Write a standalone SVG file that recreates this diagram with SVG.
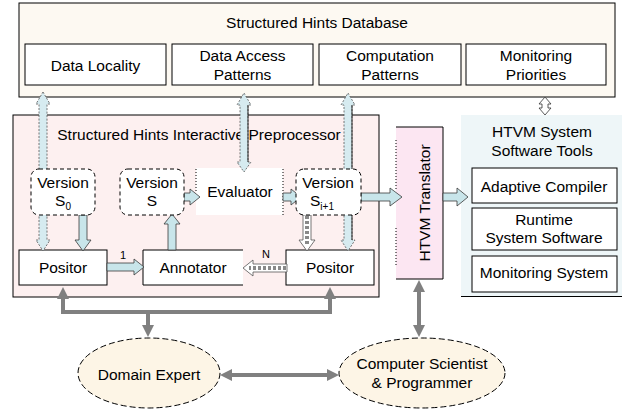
<svg xmlns="http://www.w3.org/2000/svg" width="624" height="412" viewBox="0 0 624 412">
<defs>
<style>
.t{font-family:"Liberation Sans",Arial,sans-serif;font-size:15.5px;fill:#000;text-anchor:middle}
.s{font-size:10px}
.lab{font-family:"Liberation Sans",Arial,sans-serif;font-size:11px;fill:#000;text-anchor:middle}
.box{fill:#fff;stroke:#000;stroke-width:1}
.ver{fill:#fff;stroke:#000;stroke-width:1;stroke-dasharray:4 3}
.blk{fill:#c8e5ea;stroke:#3a3a3a;stroke-width:0.8}
.dblk{fill:#d6ebf0;stroke:#555;stroke-width:0.8;stroke-dasharray:2 1.5}
.hol{fill:#fff;stroke:#333;stroke-width:0.8}
.hatch{fill:#fff;stroke:#555;stroke-width:0.8}
.hl{stroke:#888;stroke-width:4;stroke-dasharray:3 2;fill:none}
.gl{stroke:#808080;stroke-width:4;fill:none;marker-start:url(#gh);marker-end:url(#gh)}
.gl1{stroke:#808080;stroke-width:4;fill:none;marker-end:url(#gh)}
.ell{fill:#fdf5e6;stroke:#000;stroke-width:1;stroke-dasharray:6 3}
</style>
<marker id="gh" markerUnits="userSpaceOnUse" markerWidth="12" markerHeight="12" viewBox="0 0 12 12" refX="2" refY="6" orient="auto-start-reverse">
<path d="M0,0 L12,6 L0,12 Z" fill="#808080"/>
</marker>
</defs>

<!-- Database -->
<g id="database">
<rect x="19" y="3" width="596" height="94" fill="#fdf9f2" stroke="#000" stroke-width="1"/>
<text class="t" x="317" y="28">Structured Hints Database</text>
</g>
<g id="db-locality"><rect class="box" x="25" y="44" width="141" height="41"/><text class="t" x="95.5" y="71">Data Locality</text></g>
<g id="db-access"><rect class="box" x="172" y="44" width="141" height="41"/><text class="t" x="242.5" y="61">Data Access</text><text class="t" x="242.5" y="80">Patterns</text></g>
<g id="db-computation"><rect class="box" x="319" y="44" width="142" height="41"/><text class="t" x="390" y="61">Computation</text><text class="t" x="390" y="80">Patterns</text></g>
<g id="db-monitoring"><rect class="box" x="466" y="44" width="140" height="41"/><text class="t" x="536" y="61">Monitoring</text><text class="t" x="536" y="80">Priorities</text></g>

<!-- Preprocessor -->
<g id="preprocessor">
<rect x="13" y="115" width="366" height="182" fill="#fdf0f0" stroke="#000" stroke-width="1"/>
<text class="t" x="199" y="140">Structured Hints Interactive Preprocessor</text>
</g>
<g id="positor-left"><rect class="box" x="19" y="250" width="88" height="35"/><text class="t" x="63" y="273">Positor</text></g>
<g id="annotator"><rect x="143" y="250" width="100" height="35" fill="#fff"/><path d="M243,250 H143 V285 H243" fill="none" stroke="#000"/><text class="t" x="193" y="273">Annotator</text></g>
<g id="positor-right"><rect class="box" x="286" y="250" width="88" height="35"/><text class="t" x="330" y="273">Positor</text></g>
<g id="evaluator"><rect x="196" y="168" width="87" height="47" fill="#fff"/><path d="M196,169 V192 M283,169 V215" stroke="#000" stroke-width="1" stroke-dasharray="1 2" fill="none"/><text class="t" x="240" y="197">Evaluator</text></g>

<!-- HTVM Translator -->
<g id="translator">
<rect x="396" y="127" width="47" height="152" fill="#fce6f2"/>
<path d="M396,127 H443 V279 H396" fill="none" stroke="#000"/>
<path d="M396,140 V190 M396,228 V265" fill="none" stroke="#000" stroke-dasharray="1 2"/>
<text class="t" transform="translate(430,203) rotate(-90)">HTVM Translator</text>
</g>

<!-- HTVM System Software Tools -->
<g id="htvm-tools">
<rect x="461" y="115" width="161" height="182" fill="#eef6f8"/>
<path d="M461,296.5 H622" stroke="#000"/>
<text class="t" x="542" y="137">HTVM System</text>
<text class="t" x="542" y="156">Software Tools</text>
</g>
<g id="adaptive-compiler"><rect class="box" x="472" y="168" width="145" height="35"/><text class="t" x="544" y="192">Adaptive Compiler</text></g>
<g id="runtime"><rect class="box" x="472" y="208" width="145" height="42"/><text class="t" x="544" y="225">Runtime</text><text class="t" x="544" y="243">System Software</text></g>
<g id="monitoring-system"><rect class="box" x="472" y="256" width="145" height="36"/><text class="t" x="544" y="278">Monitoring System</text></g>

<!-- People -->
<g id="domain-expert"><ellipse class="ell" cx="149" cy="373" rx="71" ry="35"/><text class="t" x="149" y="380">Domain Expert</text></g>
<g id="computer-scientist"><ellipse class="ell" cx="422" cy="373" rx="83" ry="35"/><text class="t" x="422" y="369">Computer Scientist</text><text class="t" x="422" y="388">&amp; Programmer</text></g>

<!-- Connectors -->
<g id="connectors">
<path class="dblk" d="M43,92 L50,104 H47 V240 H50 L43,251 L36,240 H39 V104 H36 Z"/>
<path class="dblk" d="M244,93 L251,105 H248 V162 H251 L244,172 L237,162 H240 V105 H237 Z"/>
<path d="M248,105 V162" stroke="#000" stroke-width="0.8"/>
<path class="dblk" d="M348,93 L355,105 H352 V240 H355 L348,251 L341,240 H344 V105 H341 Z"/>
<path d="M352,105 V240" stroke="#000" stroke-width="0.8"/>
<path class="hol" d="M545,97 L551,104 H548 V108 H551 L545,115 L539,108 H542 V104 H539 Z"/>
<path class="blk" d="M79,215 H87 V240 H91 L83,251 L75,240 H79 Z"/>
<path class="blk" d="M107,263 H134 V259 L144,267 L134,275 V271 H107 Z"/>
<text class="lab" x="123" y="259">1</text>
<path class="blk" d="M168,250 V224 H164 L172,214 L180,224 H176 V250 Z"/>
<path class="blk" d="M184,193 H190 V189 L200,197 L190,205 V201 H184 Z"/>
<path class="blk" d="M283,193 H291 V189 L301,197 L291,205 V201 H283 Z"/>
<path class="blk" d="M361,193 H390 V188 L402,197 L390,206 V201 H361 Z"/>
<path class="blk" d="M443,193 H457 V188 L468,197 L457,206 V201 H443 Z"/>
<path class="hatch" d="M303,215 H311 V240 H315 L307,251 L299,240 H303 Z"/>
<path class="hl" d="M307,216 V244"/>
<path class="hatch" d="M287,264 H253 V260 L243,268 L253,276 V272 H287 Z"/>
<path class="hl" d="M286,268 H249"/>
<text class="lab" x="266" y="258">N</text>
<path class="gl" d="M63,297 V312 H330 V297"/>
<path class="gl1" d="M148,312 V327"/>
<path class="gl" d="M230,375 H329"/>
<path class="gl" d="M419,290 V327"/>
</g>

<g id="version-s0"><rect class="ver" x="31" y="169" width="64" height="46" rx="8"/><text class="t" x="63" y="188">Version</text><text class="t" x="63" y="206">S<tspan class="s" dy="4">0</tspan></text></g>
<g id="version-s"><rect class="ver" x="120" y="169" width="64" height="46" rx="8"/><text class="t" x="152" y="188">Version</text><text class="t" x="152" y="206">S</text></g>
<g id="version-si1"><rect class="ver" x="296" y="169" width="65" height="46" rx="8"/><text class="t" x="328" y="188">Version</text><text class="t" x="322" y="206">S<tspan class="s" dy="4">i+1</tspan></text></g>
</svg>
